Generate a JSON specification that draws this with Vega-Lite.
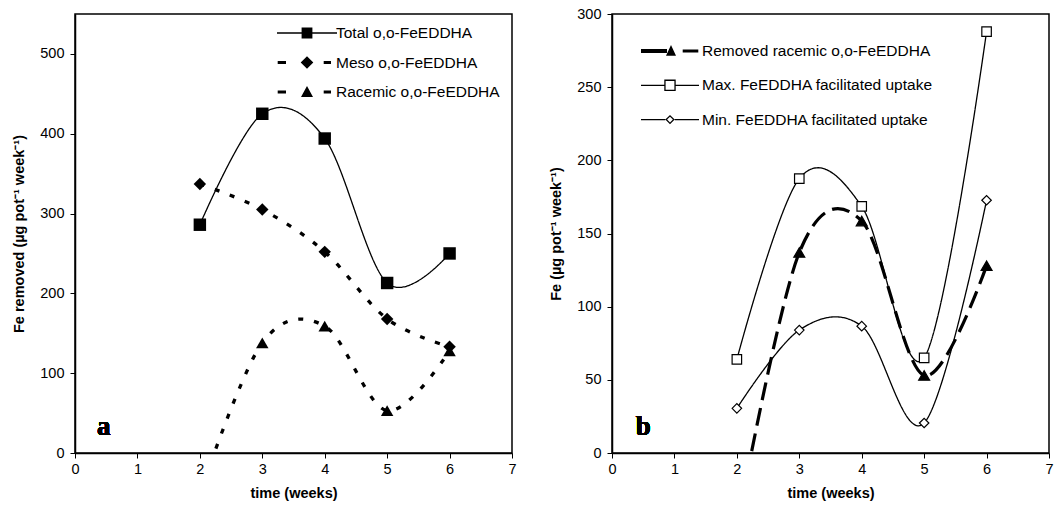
{
  "$schema": "https://vega.github.io/schema/vega-lite/v6.json",
  "padding": {"left": 11, "top": 5, "right": 0, "bottom": 0},
  "background": "white",
  "spacing": 100,
  "bounds": "flush",
  "datasets": {
    "left": [
      {"series": "Total o,o-FeEDDHA", "week": 2, "fe": 286},
      {"series": "Total o,o-FeEDDHA", "week": 3, "fe": 425},
      {"series": "Total o,o-FeEDDHA", "week": 4, "fe": 394},
      {"series": "Total o,o-FeEDDHA", "week": 5, "fe": 213},
      {"series": "Total o,o-FeEDDHA", "week": 6, "fe": 250},
      {"series": "Meso o,o-FeEDDHA", "week": 2, "fe": 337},
      {"series": "Meso o,o-FeEDDHA", "week": 3, "fe": 305},
      {"series": "Meso o,o-FeEDDHA", "week": 4, "fe": 252},
      {"series": "Meso o,o-FeEDDHA", "week": 5, "fe": 168},
      {"series": "Meso o,o-FeEDDHA", "week": 6, "fe": 133},
      {"series": "Racemic o,o-FeEDDHA", "week": 2, "fe": -51},
      {"series": "Racemic o,o-FeEDDHA", "week": 3, "fe": 138},
      {"series": "Racemic o,o-FeEDDHA", "week": 4, "fe": 159},
      {"series": "Racemic o,o-FeEDDHA", "week": 5, "fe": 53},
      {"series": "Racemic o,o-FeEDDHA", "week": 6, "fe": 128}
    ],
    "right": [
      {"series": "Removed racemic o,o-FeEDDHA", "week": 2, "fe": -51},
      {"series": "Removed racemic o,o-FeEDDHA", "week": 3, "fe": 137},
      {"series": "Removed racemic o,o-FeEDDHA", "week": 4, "fe": 158.5},
      {"series": "Removed racemic o,o-FeEDDHA", "week": 5, "fe": 53},
      {"series": "Removed racemic o,o-FeEDDHA", "week": 6, "fe": 128},
      {"series": "Max. FeEDDHA facilitated uptake", "week": 2, "fe": 64},
      {"series": "Max. FeEDDHA facilitated uptake", "week": 3, "fe": 187.5},
      {"series": "Max. FeEDDHA facilitated uptake", "week": 4, "fe": 168.5},
      {"series": "Max. FeEDDHA facilitated uptake", "week": 5, "fe": 65},
      {"series": "Max. FeEDDHA facilitated uptake", "week": 6, "fe": 288},
      {"series": "Min. FeEDDHA facilitated uptake", "week": 2, "fe": 30.5},
      {"series": "Min. FeEDDHA facilitated uptake", "week": 3, "fe": 84},
      {"series": "Min. FeEDDHA facilitated uptake", "week": 4, "fe": 86.7},
      {"series": "Min. FeEDDHA facilitated uptake", "week": 5, "fe": 20.5},
      {"series": "Min. FeEDDHA facilitated uptake", "week": 6, "fe": 172.7}
    ]
  },
  "resolve": {
    "scale": {"x": "independent", "y": "independent", "shape": "independent"},
    "legend": {"shape": "independent"}
  },
  "hconcat": [
    {
      "width": 437,
      "height": 439,
      "data": {"name": "left"},
      "layer": [
        {
          "mark": {"type": "line", "interpolate": "cardinal", "tension": 0, "clip": true, "color": "black"},
          "encoding": {
            "x": {"field": "week", "type": "quantitative", "scale": {"domain": [0, 7]}, "axis": {"values": [0, 1, 2, 3, 4, 5, 6, 7], "format": "d", "title": "time (weeks)"}},
            "y": {"field": "fe", "type": "quantitative", "scale": {"domain": [0, 550]}, "axis": {"values": [0, 100, 200, 300, 400, 500], "title": "Fe removed (µg pot⁻¹ week⁻¹)"}},
            "detail": {"field": "series", "type": "nominal"},
            "strokeDash": {"condition": {"test": "datum.series === 'Total o,o-FeEDDHA'", "value": [1, 0]}, "value": [5, 11]},
            "strokeWidth": {"condition": {"test": "datum.series === 'Total o,o-FeEDDHA'", "value": 1.3}, "value": 3.3}
          }
        },
        {
          "mark": {"type": "point", "filled": true, "clip": true, "opacity": 1, "color": "black", "size": 155},
          "encoding": {
            "x": {"field": "week", "type": "quantitative"},
            "y": {"field": "fe", "type": "quantitative"},
            "shape": {"condition": [{"test": "datum.series === 'Total o,o-FeEDDHA'", "value": "square"}, {"test": "datum.series === 'Meso o,o-FeEDDHA'", "value": "diamond"}], "value": "triangle-up"}
          }
        },
        {
          "mark": {"type": "point", "filled": true, "clip": true, "opacity": 1, "color": "black", "size": 0},
          "encoding": {
            "x": {"field": "week", "type": "quantitative"},
            "y": {"field": "fe", "type": "quantitative"},
            "shape": {
              "field": "series", "type": "nominal",
              "scale": {"domain": ["Total o,o-FeEDDHA", "Meso o,o-FeEDDHA", "Racemic o,o-FeEDDHA"], "range": [
                "M-3,-0.066H3V0.066H-3Z M-0.54,-0.54H0.54V0.54H-0.54Z",
                "M-2.93,-0.15H-2.1V0.15H-2.93Z M1.67,-0.15H2.4V0.15H1.67Z M0,-0.63L0.63,0L0,0.63L-0.63,0Z",
                "M-2.93,-0.15H-2.1V0.15H-2.93Z M1.67,-0.15H2.4V0.15H1.67Z M0,-0.6L0.6,0.5L-0.6,0.5Z"
              ]},
              "legend": {
                "title": null,
                "orient": "none",
                "legendX": 222,
                "legendY": 9,
                "padding": 0,
                "symbolSize": 400,
                "symbolOpacity": 1,
                "symbolFillColor": "black",
                "symbolStrokeColor": "transparent",
                "symbolStrokeWidth": 0,
                "labelFont": "Liberation Sans",
                "labelFontSize": 15.5,
                "labelColor": "black",
                "labelOffset": 19,
                "labelLimit": 400,
                "rowPadding": 10.5
              }
            }
          }
        },
        {
          "mark": {"type": "text", "font": "Liberation Serif", "fontSize": 27, "fontWeight": "bold", "align": "center", "baseline": "alphabetic", "color": "black"},
          "encoding": {
            "x": {"datum": 0.46},
            "y": {"datum": 22},
            "text": {"value": "a"}
          }
        }
      ]
    },
    {
      "width": 437,
      "height": 439,
      "data": {"name": "right"},
      "layer": [
        {
          "mark": {"type": "line", "interpolate": "cardinal", "tension": 0, "clip": true, "color": "black"},
          "encoding": {
            "x": {"field": "week", "type": "quantitative", "scale": {"domain": [0, 7]}, "axis": {"values": [0, 1, 2, 3, 4, 5, 6, 7], "format": "d", "title": "time (weeks)"}},
            "y": {"field": "fe", "type": "quantitative", "scale": {"domain": [0, 300]}, "axis": {"values": [0, 50, 100, 150, 200, 250, 300], "title": "Fe (µg pot⁻¹ week⁻¹)"}},
            "detail": {"field": "series", "type": "nominal"},
            "strokeDash": {"condition": {"test": "datum.series === 'Removed racemic o,o-FeEDDHA'", "value": [18, 8]}, "value": [1, 0]},
            "strokeWidth": {"condition": {"test": "datum.series === 'Removed racemic o,o-FeEDDHA'", "value": 3.2}, "value": 1.3}
          }
        },
        {
          "mark": {"type": "point", "filled": true, "clip": true, "opacity": 1, "stroke": "black", "strokeWidth": 1.2},
          "encoding": {
            "x": {"field": "week", "type": "quantitative"},
            "y": {"field": "fe", "type": "quantitative"},
            "fill": {"condition": {"test": "datum.series === 'Removed racemic o,o-FeEDDHA'", "value": "black"}, "value": "white"},
            "size": {"condition": {"test": "datum.series === 'Removed racemic o,o-FeEDDHA'", "value": 120}, "value": 90},
            "shape": {"condition": [{"test": "datum.series === 'Removed racemic o,o-FeEDDHA'", "value": "triangle-up"}, {"test": "datum.series === 'Max. FeEDDHA facilitated uptake'", "value": "square"}], "value": "diamond"}
          }
        },
        {
          "mark": {"type": "point", "filled": true, "clip": true, "opacity": 1, "color": "black", "size": 0},
          "encoding": {
            "x": {"field": "week", "type": "quantitative"},
            "y": {"field": "fe", "type": "quantitative"},
            "shape": {
              "field": "series", "type": "nominal",
              "scale": {"domain": ["Removed racemic o,o-FeEDDHA", "Max. FeEDDHA facilitated uptake", "Min. FeEDDHA facilitated uptake"], "range": [
                "M-2.9,-0.2H-0.3V0.2H-2.9Z M1.27,-0.15H2.83V0.15H1.27Z M0.1,-0.6L0.6,0.48L-0.4,0.48Z",
                "M-2.9,-0.065H-0.57V0.065H-2.9Z M0.57,-0.065H2.9V0.065H0.57Z M-0.57,-0.57H0.57V0.57H-0.57Z M-0.44,-0.44V0.44H0.44V-0.44Z",
                "M-2.9,-0.065H-0.47V0.065H-2.9Z M0.47,-0.065H2.9V0.065H0.47Z M0,-0.47L0.47,0L0,0.47L-0.47,0Z M0,-0.29L-0.29,0L0,0.29L0.29,0Z"
              ]},
              "legend": {
                "title": null,
                "orient": "none",
                "legendX": 48,
                "legendY": 27,
                "padding": 0,
                "symbolSize": 400,
                "symbolOpacity": 1,
                "symbolFillColor": "black",
                "symbolStrokeColor": "transparent",
                "symbolStrokeWidth": 0,
                "labelFont": "Liberation Sans",
                "labelFontSize": 15.5,
                "labelColor": "black",
                "labelOffset": 22,
                "labelLimit": 400,
                "rowPadding": 15.3
              }
            }
          }
        },
        {
          "mark": {"type": "text", "font": "Liberation Serif", "fontSize": 27, "fontWeight": "bold", "align": "center", "baseline": "alphabetic", "color": "black"},
          "encoding": {
            "x": {"datum": 0.5},
            "y": {"datum": 12.6},
            "text": {"value": "b"}
          }
        }
      ]
    }
  ],
  "config": {
    "view": {"stroke": "black", "strokeWidth": 1.5},
    "axis": {
      "grid": false,
      "domainColor": "black",
      "domainWidth": 1.5,
      "tickColor": "black",
      "tickWidth": 1,
      "tickSize": 5,
      "labelFont": "Liberation Sans",
      "labelFontSize": 14.5,
      "labelColor": "black",
      "labelPadding": 4,
      "titleFont": "Liberation Sans",
      "titleFontSize": 14.5,
      "titleFontWeight": "bold",
      "titleColor": "black"
    },
    "axisX": {"titlePadding": 11, "labelFlush": false},
    "axisY": {"titlePadding": 13, "labelPadding": 6}
  }
}
